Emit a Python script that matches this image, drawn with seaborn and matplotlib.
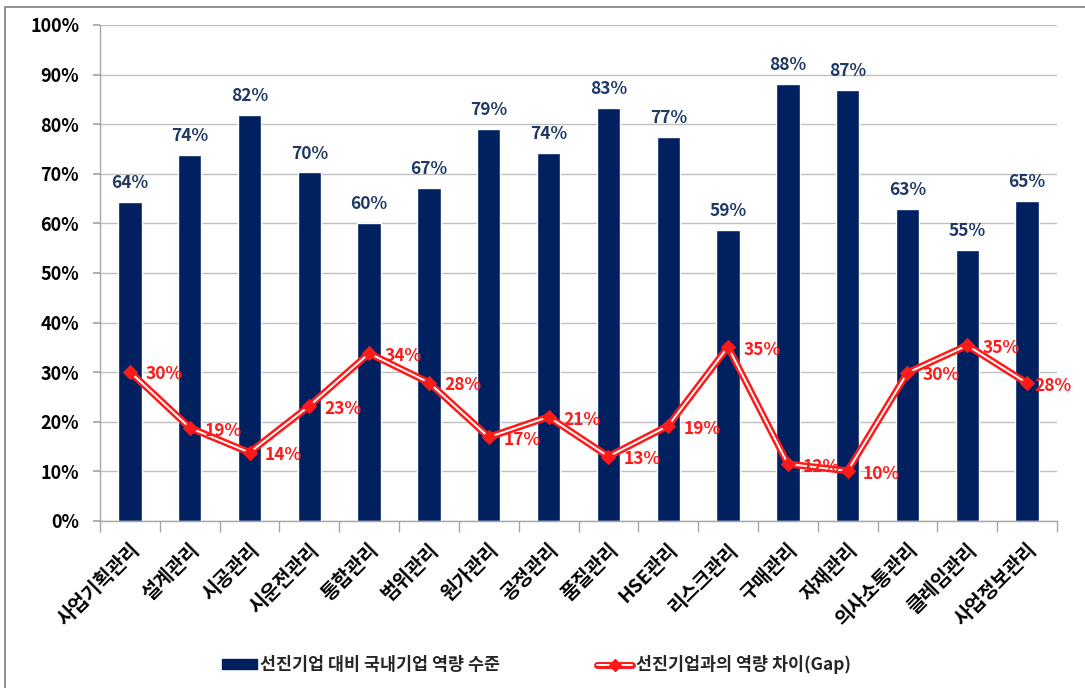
import matplotlib
matplotlib.use("Agg")
import matplotlib.pyplot as plt
import seaborn as sns
import pandas as pd
import numpy as np
from matplotlib.patches import Patch, Rectangle
from matplotlib.lines import Line2D
from matplotlib.ticker import FixedLocator, PercentFormatter

categories = ["사업기획관리", "설계관리", "시공관리", "시운전관리", "통합관리", "범위관리",
              "원가관리", "공정관리", "품질관리", "HSE관리", "리스크관리", "구매관리",
              "자재관리", "의사소통관리", "클레임관리", "사업정보관리"]
level = [64.3, 73.8, 81.9, 70.3, 60.1, 67.1, 79.0, 74.2, 83.3, 77.4, 58.7, 88.1, 86.9, 62.9, 54.6, 64.6]
gap = [30.1, 18.8, 13.8, 23.2, 33.8, 27.9, 16.9, 21.0, 13.0, 19.2, 35.1, 11.5, 10.1, 29.9, 35.4, 27.8]
legend_labels = ["선진기업 대비 국내기업 역량 수준", "선진기업과의 역량 차이(Gap)"]

sns.set_theme(style="white")
FONTS = ['Noto Sans CJK KR', 'DejaVu Sans']
plt.rcParams['font.family'] = FONTS
plt.rcParams['font.weight'] = 'bold'

NAVY = "#002060"
RED = "#ff1a1a"
GRID = "#bfbfbf"

df = pd.DataFrame({"cat": categories, "level": level, "gap": gap})

fig = plt.figure(figsize=(10.85, 6.88), dpi=100)
ax = fig.add_axes([100/1085, 1-521/688, 957/1085, 496/688])

sns.barplot(data=df, x="cat", y="level", color=NAVY, width=0.39, saturation=1,
            ax=ax, zorder=2)

# double red line: thick red with white core
sns.lineplot(data=df, x="cat", y="gap", color=RED, linewidth=5.0, ax=ax,
             sort=False, zorder=3)
sns.lineplot(data=df, x="cat", y="gap", color="white", linewidth=1.4, ax=ax,
             sort=False, zorder=4)
sns.scatterplot(data=df, x="cat", y="gap", color=RED, marker="D", s=55,
                edgecolor=RED, linewidth=0.5, ax=ax, zorder=5)

n = len(categories)
ax.set_xlim(-0.5, n - 0.5)
ax.set_ylim(0, 100)
ax.yaxis.set_major_locator(FixedLocator(np.arange(0, 101, 10)))
ax.yaxis.set_major_formatter(PercentFormatter(decimals=0))
ax.grid(axis="y", color=GRID, linewidth=1.0, zorder=0)
ax.set_axisbelow(True)
ax.set_xlabel("")
ax.set_ylabel("")

for s in ["top", "right"]:
    ax.spines[s].set_visible(False)
for s in ["left", "bottom"]:
    ax.spines[s].set_visible(True)
    ax.spines[s].set_color("#a6a6a6")
    ax.spines[s].set_linewidth(1.0)

ax.tick_params(axis="y", which="major", left=True, length=5, color="#a6a6a6",
               labelsize=13, labelcolor="black", pad=10)
ax.tick_params(axis="x", which="major", bottom=False, length=0, pad=14)
ax.set_xticks(range(n))
ax.set_xticklabels(categories, rotation=45, ha="right", va="top",
                   rotation_mode="anchor", fontsize=14, fontweight="bold",
                   color="black")
ax.set_xticks(np.arange(-0.5, n, 1.0), minor=True)
ax.tick_params(axis="x", which="minor", bottom=True, length=8, color="#a6a6a6")
for lab in ax.get_yticklabels():
    lab.set_fontweight("bold")
for lab in ax.get_xticklabels():
    lab.set_x(lab.get_position()[0])

# bar labels
for i, v in enumerate(level):
    ax.annotate(f"{v:.0f}%", (i, v), xytext=(0, 7), textcoords="offset points",
                ha="center", va="bottom", fontsize=12.5, fontweight="bold",
                color="#1f3864", zorder=6)
# line labels
for i, v in enumerate(gap):
    dx = 11 if i < n - 1 else 5
    ax.annotate(f"{v:.0f}%", (i, v), xytext=(dx, -2), textcoords="offset points",
                ha="left", va="center", fontsize=12.5, fontweight="bold",
                color=RED, zorder=6)

# legend
h1 = Patch(facecolor=NAVY, edgecolor=NAVY)
h2 = (Line2D([], [], color=RED, linewidth=5.0),
      Line2D([], [], color="white", linewidth=1.4),
      Line2D([], [], color=RED, marker="D", markersize=6, linestyle="none"))
fig.legend([h1, h2], legend_labels, loc="center left",
           bbox_to_anchor=(222/1085, 1-665/688),
           ncol=2, frameon=False, handlelength=2.0, handleheight=0.5,
           handletextpad=0.2, columnspacing=5.6, borderpad=0, borderaxespad=0,
           prop={"weight": "bold", "size": 12.5, "family": FONTS})

# outer frame
fig.patches.append(Rectangle((5/1085, -0.01), 1.5, 1-7/688 + 0.01, transform=fig.transFigure,
                             fill=False, edgecolor="#7f7f7f", linewidth=1.2, zorder=0))

fig.savefig("out.png", dpi=100, facecolor="white")
